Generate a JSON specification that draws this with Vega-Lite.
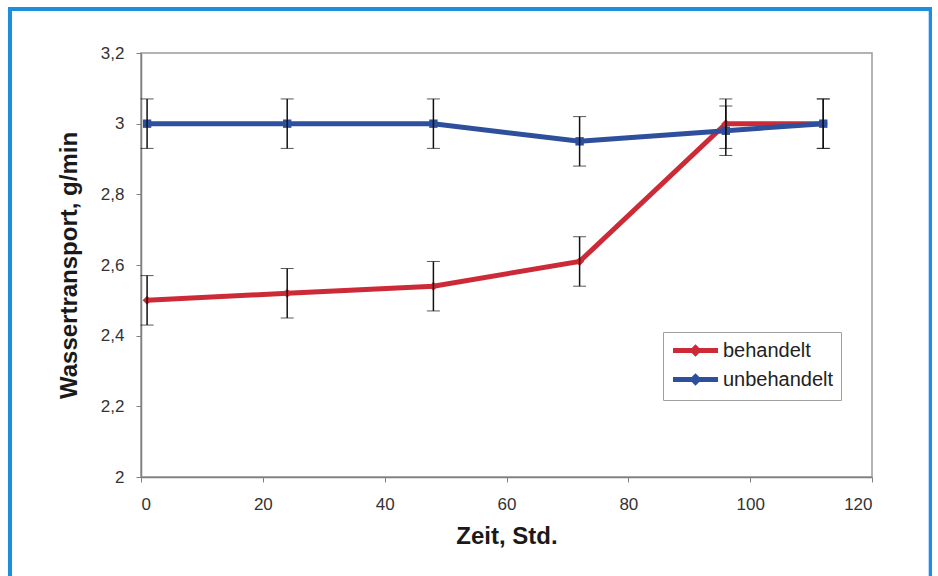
{
  "$schema": "https://vega.github.io/schema/vega-lite/v6.json",
  "autosize": "none",
  "width": 731,
  "height": 424,
  "padding": {"left": 141, "top": 53, "right": 66, "bottom": 99},
  "background": "white",
  "config": {
    "view": {"stroke": "#9a9a9a", "strokeWidth": 1.5},
    "font": "Liberation Sans",
    "axis": {"labelFont": "Liberation Sans", "titleFont": "Liberation Sans", "grid": false, "domainColor": "#808080", "domainWidth": 1.5, "tickColor": "#808080", "tickSize": 5, "labelColor": "#333333", "labelFontSize": 17, "titleFontSize": 24, "titleFontWeight": "bold", "titleColor": "#1a1a1a"}
  },
  "data": {
    "values": [
      {"zeit": 1, "wert": 2.50, "lo": 2.43, "hi": 2.57, "serie": "behandelt"},
      {"zeit": 24, "wert": 2.52, "lo": 2.45, "hi": 2.59, "serie": "behandelt"},
      {"zeit": 48, "wert": 2.54, "lo": 2.47, "hi": 2.61, "serie": "behandelt"},
      {"zeit": 72, "wert": 2.61, "lo": 2.54, "hi": 2.68, "serie": "behandelt"},
      {"zeit": 96, "wert": 3.00, "lo": 2.93, "hi": 3.07, "serie": "behandelt"},
      {"zeit": 112, "wert": 3.00, "lo": 2.93, "hi": 3.07, "serie": "behandelt"},
      {"zeit": 1, "wert": 3.00, "lo": 2.93, "hi": 3.07, "serie": "unbehandelt"},
      {"zeit": 24, "wert": 3.00, "lo": 2.93, "hi": 3.07, "serie": "unbehandelt"},
      {"zeit": 48, "wert": 3.00, "lo": 2.93, "hi": 3.07, "serie": "unbehandelt"},
      {"zeit": 72, "wert": 2.95, "lo": 2.88, "hi": 3.02, "serie": "unbehandelt"},
      {"zeit": 96, "wert": 2.98, "lo": 2.91, "hi": 3.05, "serie": "unbehandelt"},
      {"zeit": 112, "wert": 3.00, "lo": 2.93, "hi": 3.07, "serie": "unbehandelt"}
    ]
  },
  "layer": [
    {
      "mark": {"type": "line", "strokeWidth": 5},
      "encoding": {
        "x": {"field": "zeit", "type": "quantitative", "scale": {"domain": [0, 120], "nice": false}, "axis": {"values": [0, 20, 40, 60, 80, 100, 120], "title": "Zeit, Std.", "titlePadding": 12, "labelPadding": 14}},
        "y": {"field": "wert", "type": "quantitative", "scale": {"domain": [2, 3.2], "nice": false, "zero": false}, "title": "Wassertransport, g/min", "axis": {"values": [2, 2.2, 2.4, 2.6, 2.8, 3, 3.2], "labelExpr": "replace(format(datum.value, '.2~f'), '.', ',')", "titlePadding": 19, "labelPadding": 12}},
        "color": {"field": "serie", "type": "nominal", "scale": {"domain": ["behandelt", "unbehandelt"], "range": ["#cc2a36", "#2e4f9c"]},
          "legend": {"title": null, "orient": "none", "legendX": 522, "legendY": 279, "symbolType": "M-2.5,0H2.5M0,-0.3L0.3,0L0,0.3L-0.3,0Z", "symbolSize": 324, "symbolStrokeWidth": 5, "labelFontSize": 20, "labelColor": "#222222", "labelFont": "Liberation Sans", "strokeColor": "#a0a0a0", "fillColor": "white", "padding": 7, "rowPadding": 2, "labelOffset": 16, "symbolOffset": 14}}
      }
    },
    {
      "transform": [{"filter": "datum.serie === 'behandelt'"}],
      "mark": {"type": "point", "filled": true, "size": 80, "opacity": 1, "shape": "diamond", "color": "#cc2a36"},
      "encoding": {
        "x": {"field": "zeit", "type": "quantitative"},
        "y": {"field": "wert", "type": "quantitative"}
      }
    },
    {
      "transform": [{"filter": "datum.serie === 'unbehandelt'"}],
      "mark": {"type": "point", "filled": true, "size": 70, "opacity": 1, "shape": "square", "color": "#2e4f9c"},
      "encoding": {
        "x": {"field": "zeit", "type": "quantitative"},
        "y": {"field": "wert", "type": "quantitative"}
      }
    },
    {
      "mark": {"type": "errorbar", "ticks": {"size": 13, "color": "#111111", "strokeWidth": 1.5}, "rule": {"color": "#111111", "strokeWidth": 1.5}},
      "encoding": {
        "x": {"field": "zeit", "type": "quantitative"},
        "y": {"field": "lo", "type": "quantitative", "title": "Wassertransport, g/min"},
        "y2": {"field": "hi"}
      }
    },
    {
      "mark": {"type": "rect", "fill": null, "fillOpacity": 0, "stroke": "#1c8fdc", "strokeWidth": 3, "clip": false},
      "encoding": {
        "x": {"datum": -21.5, "type": "quantitative"},
        "x2": {"datum": 129.6},
        "y": {"datum": 3.3245, "type": "quantitative"},
        "y2": {"datum": 1.6}
      }
    }
  ]
}
